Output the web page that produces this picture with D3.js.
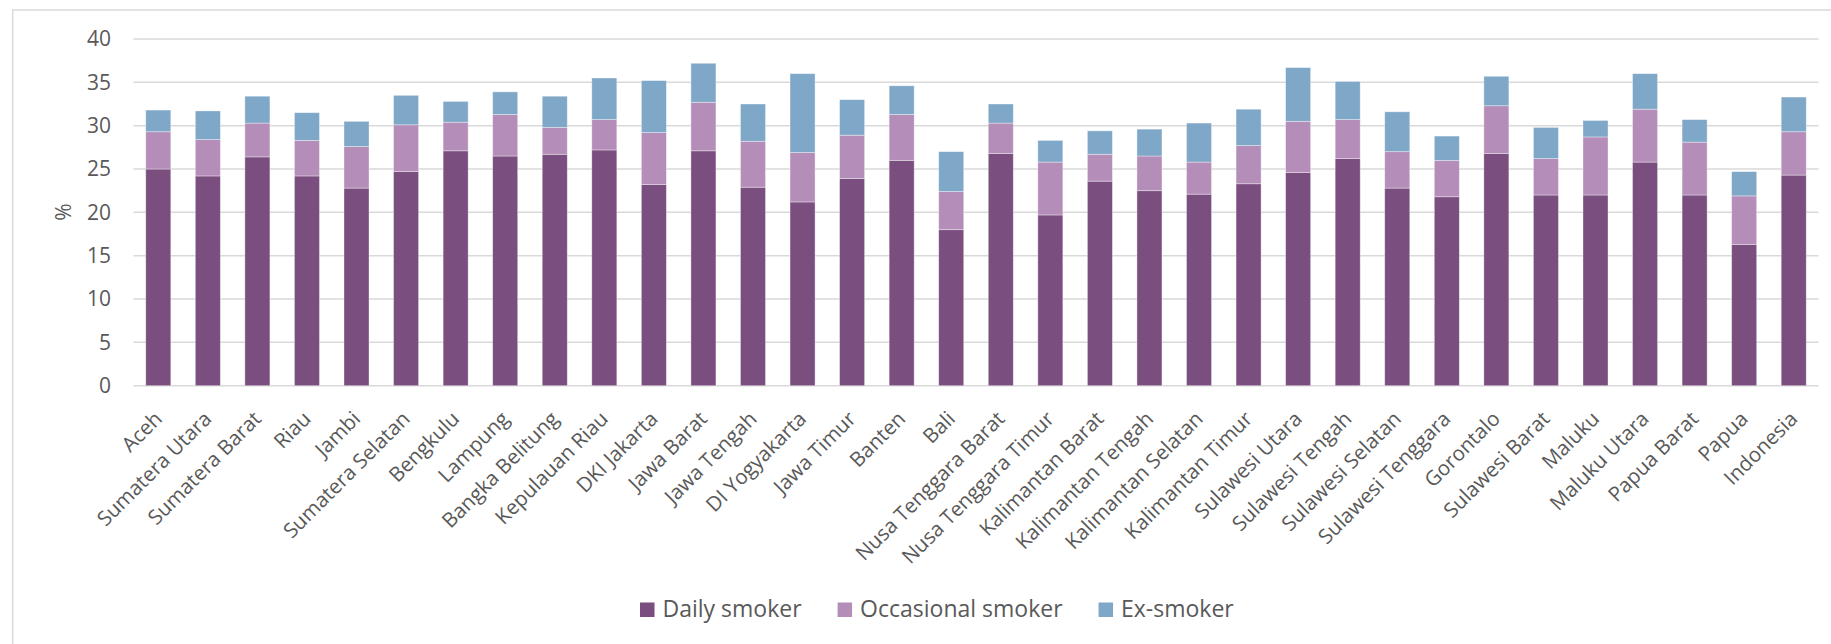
<!DOCTYPE html>
<html>
<head>
<meta charset="utf-8">
<script src="https://cdn.jsdelivr.net/npm/d3@7"></script>
<style>
  html, body { margin: 0; padding: 0; background: #ffffff; }
  svg { display: block; font-family: "Open Sans", "Noto Sans", sans-serif; }
</style>
</head>
<body>
<svg id="chart" width="1831" height="644"></svg>
<script>
const categories = ["Aceh","Sumatera Utara","Sumatera Barat","Riau","Jambi","Sumatera Selatan","Bengkulu","Lampung","Bangka Belitung","Kepulauan Riau","DKI Jakarta","Jawa Barat","Jawa Tengah","DI Yogyakarta","Jawa Timur","Banten","Bali","Nusa Tenggara Barat","Nusa Tenggara Timur","Kalimantan Barat","Kalimantan Tengah","Kalimantan Selatan","Kalimantan Timur","Sulawesi Utara","Sulawesi Tengah","Sulawesi Selatan","Sulawesi Tenggara","Gorontalo","Sulawesi Barat","Maluku","Maluku Utara","Papua Barat","Papua","Indonesia"];
const dailySmoker      = [25.0,24.2,26.4,24.2,22.8,24.7,27.1,26.5,26.7,27.2,23.2,27.1,22.9,21.2,23.9,26.0,18.0,26.8,19.7,23.6,22.5,22.1,23.3,24.6,26.2,22.8,21.8,26.8,22.0,22.0,25.8,22.0,16.3,24.3];
const occasionalSmoker = [4.3,4.2,3.9,4.1,4.8,5.4,3.3,4.8,3.1,3.5,6.0,5.6,5.3,5.7,5.0,5.3,4.4,3.5,6.1,3.1,4.0,3.7,4.4,5.9,4.5,4.2,4.2,5.5,4.2,6.7,6.1,6.1,5.6,5.0];
const exSmoker         = [2.5,3.3,3.1,3.2,2.9,3.4,2.4,2.6,3.6,4.8,6.0,4.5,4.3,9.1,4.1,3.3,4.6,2.2,2.5,2.7,3.1,4.5,4.2,6.2,4.4,4.6,2.8,3.4,3.6,1.9,4.1,2.6,2.8,4.0];
const seriesNames  = ["Daily smoker","Occasional smoker","Ex-smoker"];
const seriesColors = ["#7a4e7e","#b58db9","#7fa7c8"];
const yTicks = [0,5,10,15,20,25,30,35,40];
const yLabel = "%";

const rows = categories.map((c, i) => ({
  cat: c,
  "Daily smoker": dailySmoker[i],
  "Occasional smoker": occasionalSmoker[i],
  "Ex-smoker": exSmoker[i]
}));

const svg = d3.select("#chart");
const plotLeft = 133.5, plotRight = 1818.5, plotTop = 39, plotBottom = 385.7;

// frame
svg.append("rect")
  .attr("x", 12.7).attr("y", 10)
  .attr("width", 1900).attr("height", 700)
  .attr("fill", "none").attr("stroke", "#d9d9d9").attr("stroke-width", 1.5);

const x = d3.scaleBand().domain(categories).range([plotLeft, plotRight]).paddingInner(0.495).paddingOuter(0.2475);
const y = d3.scaleLinear().domain([0, 40]).range([plotBottom, plotTop]);

// gridlines
svg.append("g").selectAll("line").data(yTicks).join("line")
  .attr("x1", plotLeft).attr("x2", plotRight)
  .attr("y1", d => y(d)).attr("y2", d => y(d))
  .attr("stroke", "#d9d9d9").attr("stroke-width", 1.5);

// y tick labels via axis
const yAxis = svg.append("g")
  .attr("transform", `translate(${111},0)`)
  .call(d3.axisLeft(y).tickValues(yTicks).tickSize(0).tickPadding(0));
yAxis.select(".domain").remove();
yAxis.selectAll("text")
  .attr("fill", "#595959").style("font-size", "21px")
  .style("font-family", '"Open Sans", sans-serif');

// y label
svg.append("text")
  .attr("transform", `translate(71,212) rotate(-90)`)
  .attr("text-anchor", "middle")
  .attr("fill", "#595959").style("font-size", "21px")
  .text(yLabel);

// stacked bars
const stack = d3.stack().keys(seriesNames);
const stacked = stack(rows);
svg.append("g").selectAll("g").data(stacked).join("g")
  .attr("fill", (d, i) => seriesColors[i])
  .selectAll("rect").data(d => d).join("rect")
  .attr("x", d => x(d.data.cat))
  .attr("width", x.bandwidth())
  .attr("y", d => y(d[1]))
  .attr("height", d => y(d[0]) - y(d[1]))
  .attr("stroke", "#ffffff").attr("stroke-opacity", 0.45).attr("stroke-width", 0.8);

// x labels
svg.append("g").selectAll("text").data(categories).join("text")
  .attr("transform", d => `translate(${x(d) + x.bandwidth() / 2},415) rotate(-45)`)
  .attr("text-anchor", "end")
  .attr("dy", "0.35em")
  .attr("fill", "#595959").style("font-size", "20.5px")
  .text(d => d);

// legend
const legend = svg.append("g");
let lx = 640;
seriesNames.forEach((name, i) => {
  legend.append("rect")
    .attr("x", lx).attr("y", 602.5)
    .attr("width", 14.5).attr("height", 14.5)
    .attr("fill", seriesColors[i]);
  const t = legend.append("text")
    .attr("x", lx + 22.5).attr("y", 617)
    .attr("fill", "#595959").style("font-size", "23px")
    .text(name);
  lx = lx + 22.5 + t.node().getComputedTextLength() + 36;
});
</script>
</body>
</html>
